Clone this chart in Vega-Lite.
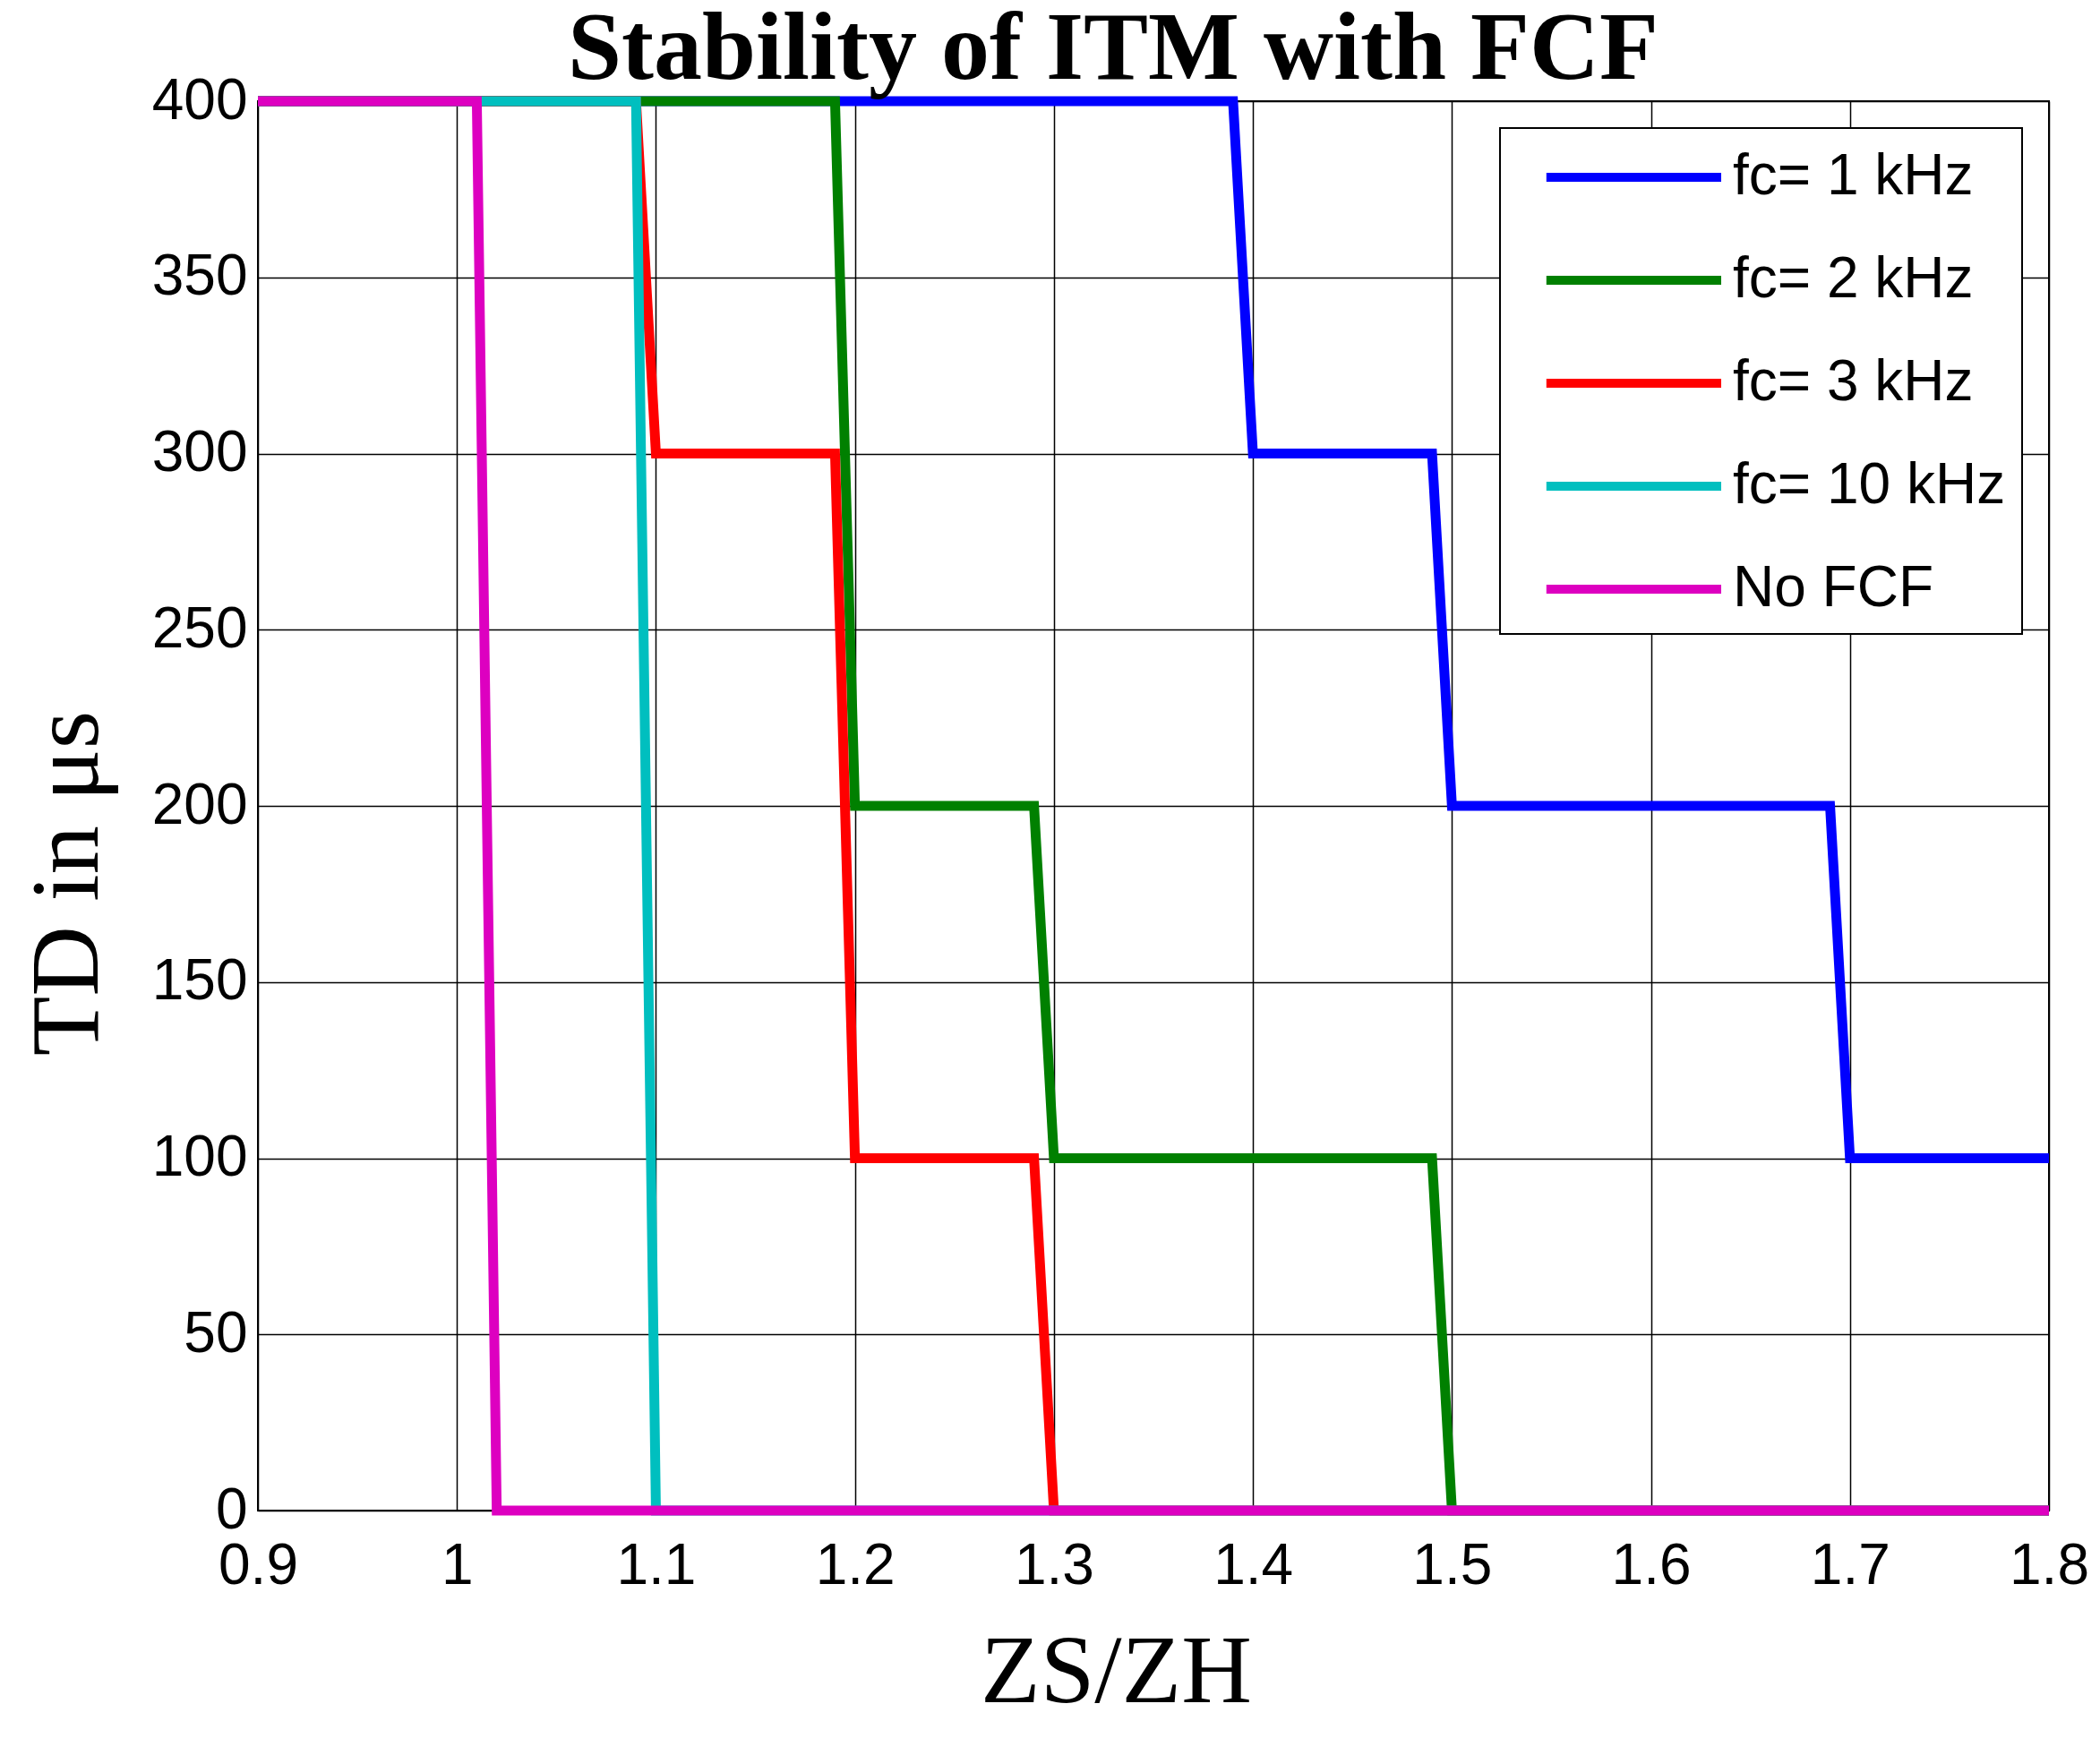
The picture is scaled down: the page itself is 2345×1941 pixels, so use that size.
{
  "$schema": "https://vega.github.io/schema/vega-lite/v6.json",
  "description": "Stability of ITM with FCF: delay limit against impedance ratio for several FCF cut-off frequencies",
  "autosize": "none",
  "width": 2000,
  "height": 1574,
  "padding": {"left": 288, "top": 113, "right": 57, "bottom": 254},
  "background": "white",
  "title": {
    "text": "Stability of ITM with FCF",
    "font": "Liberation Serif",
    "fontSize": 108,
    "fontWeight": "bold",
    "color": "black",
    "anchor": "middle",
    "offset": -30,
    "dx": -45
  },
  "config": {
    "view": {"stroke": "black", "strokeWidth": 2},
    "axis": {
      "labelFont": "Liberation Sans",
      "labelFontSize": 64,
      "labelColor": "black",
      "titleFont": "Liberation Serif",
      "titleFontSize": 109,
      "titleFontWeight": "normal",
      "titleColor": "black",
      "grid": true,
      "gridColor": "black",
      "gridOpacity": 1,
      "gridWidth": 1.5,
      "ticks": false,
      "domain": false,
      "labelFlush": false,
      "labelOverlap": false
    }
  },
  "data": {
    "values": [
      {"series": "fc= 1 kHz", "ratio": 0.9, "td": 400},
      {"series": "fc= 1 kHz", "ratio": 1.39, "td": 400},
      {"series": "fc= 1 kHz", "ratio": 1.4, "td": 300},
      {"series": "fc= 1 kHz", "ratio": 1.49, "td": 300},
      {"series": "fc= 1 kHz", "ratio": 1.5, "td": 200},
      {"series": "fc= 1 kHz", "ratio": 1.69, "td": 200},
      {"series": "fc= 1 kHz", "ratio": 1.7, "td": 100},
      {"series": "fc= 1 kHz", "ratio": 1.8, "td": 100},
      {"series": "fc= 2 kHz", "ratio": 0.9, "td": 400},
      {"series": "fc= 2 kHz", "ratio": 1.19, "td": 400},
      {"series": "fc= 2 kHz", "ratio": 1.2, "td": 200},
      {"series": "fc= 2 kHz", "ratio": 1.29, "td": 200},
      {"series": "fc= 2 kHz", "ratio": 1.3, "td": 100},
      {"series": "fc= 2 kHz", "ratio": 1.49, "td": 100},
      {"series": "fc= 2 kHz", "ratio": 1.5, "td": 0},
      {"series": "fc= 2 kHz", "ratio": 1.8, "td": 0},
      {"series": "fc= 3 kHz", "ratio": 0.9, "td": 400},
      {"series": "fc= 3 kHz", "ratio": 1.09, "td": 400},
      {"series": "fc= 3 kHz", "ratio": 1.1, "td": 300},
      {"series": "fc= 3 kHz", "ratio": 1.19, "td": 300},
      {"series": "fc= 3 kHz", "ratio": 1.2, "td": 100},
      {"series": "fc= 3 kHz", "ratio": 1.29, "td": 100},
      {"series": "fc= 3 kHz", "ratio": 1.3, "td": 0},
      {"series": "fc= 3 kHz", "ratio": 1.8, "td": 0},
      {"series": "fc= 10 kHz", "ratio": 0.9, "td": 400},
      {"series": "fc= 10 kHz", "ratio": 1.09, "td": 400},
      {"series": "fc= 10 kHz", "ratio": 1.1, "td": 0},
      {"series": "fc= 10 kHz", "ratio": 1.8, "td": 0},
      {"series": "No FCF", "ratio": 0.9, "td": 400},
      {"series": "No FCF", "ratio": 1.01, "td": 400},
      {"series": "No FCF", "ratio": 1.02, "td": 0},
      {"series": "No FCF", "ratio": 1.8, "td": 0}
    ]
  },
  "mark": {"type": "line", "strokeWidth": 11},
  "encoding": {
    "x": {
      "field": "ratio",
      "type": "quantitative",
      "scale": {"domain": [0.9, 1.8], "nice": false, "zero": false},
      "axis": {
        "title": "ZS/ZH",
        "values": [0.9, 1, 1.1, 1.2, 1.3, 1.4, 1.5, 1.6, 1.7, 1.8],
        "format": "~g",
        "labelPadding": 30,
        "titlePadding": 33,
        "titleX": 958
      }
    },
    "y": {
      "field": "td",
      "type": "quantitative",
      "scale": {"domain": [0, 400], "nice": false},
      "axis": {
        "title": "TD in μs",
        "values": [0, 50, 100, 150, 200, 250, 300, 350, 400],
        "labelPadding": 12,
        "titlePadding": 38,
        "titleY": 873
      }
    },
    "color": {
      "field": "series",
      "type": "nominal",
      "scale": {
        "domain": ["fc= 1 kHz", "fc= 2 kHz", "fc= 3 kHz", "fc= 10 kHz", "No FCF"],
        "range": ["#0000ff", "#008000", "#ff0000", "#00bfbf", "#dd00c0"]
      },
      "legend": {
        "title": null,
        "orient": "top-right",
        "offset": 30,
        "padding": 18,
        "strokeColor": "black",
        "fillColor": "white",
        "symbolType": "M-0.1,0H6",
        "symbolSize": 4096,
        "symbolStrokeWidth": 10,
        "labelOffset": 168,
        "labelFont": "Liberation Sans",
        "labelFontSize": 64,
        "labelColor": "black",
        "labelLimit": 1000,
        "rowPadding": 46,
        "encode": {"legend": {"update": {"strokeWidth": {"value": 2}}}}
      }
    }
  }
}
